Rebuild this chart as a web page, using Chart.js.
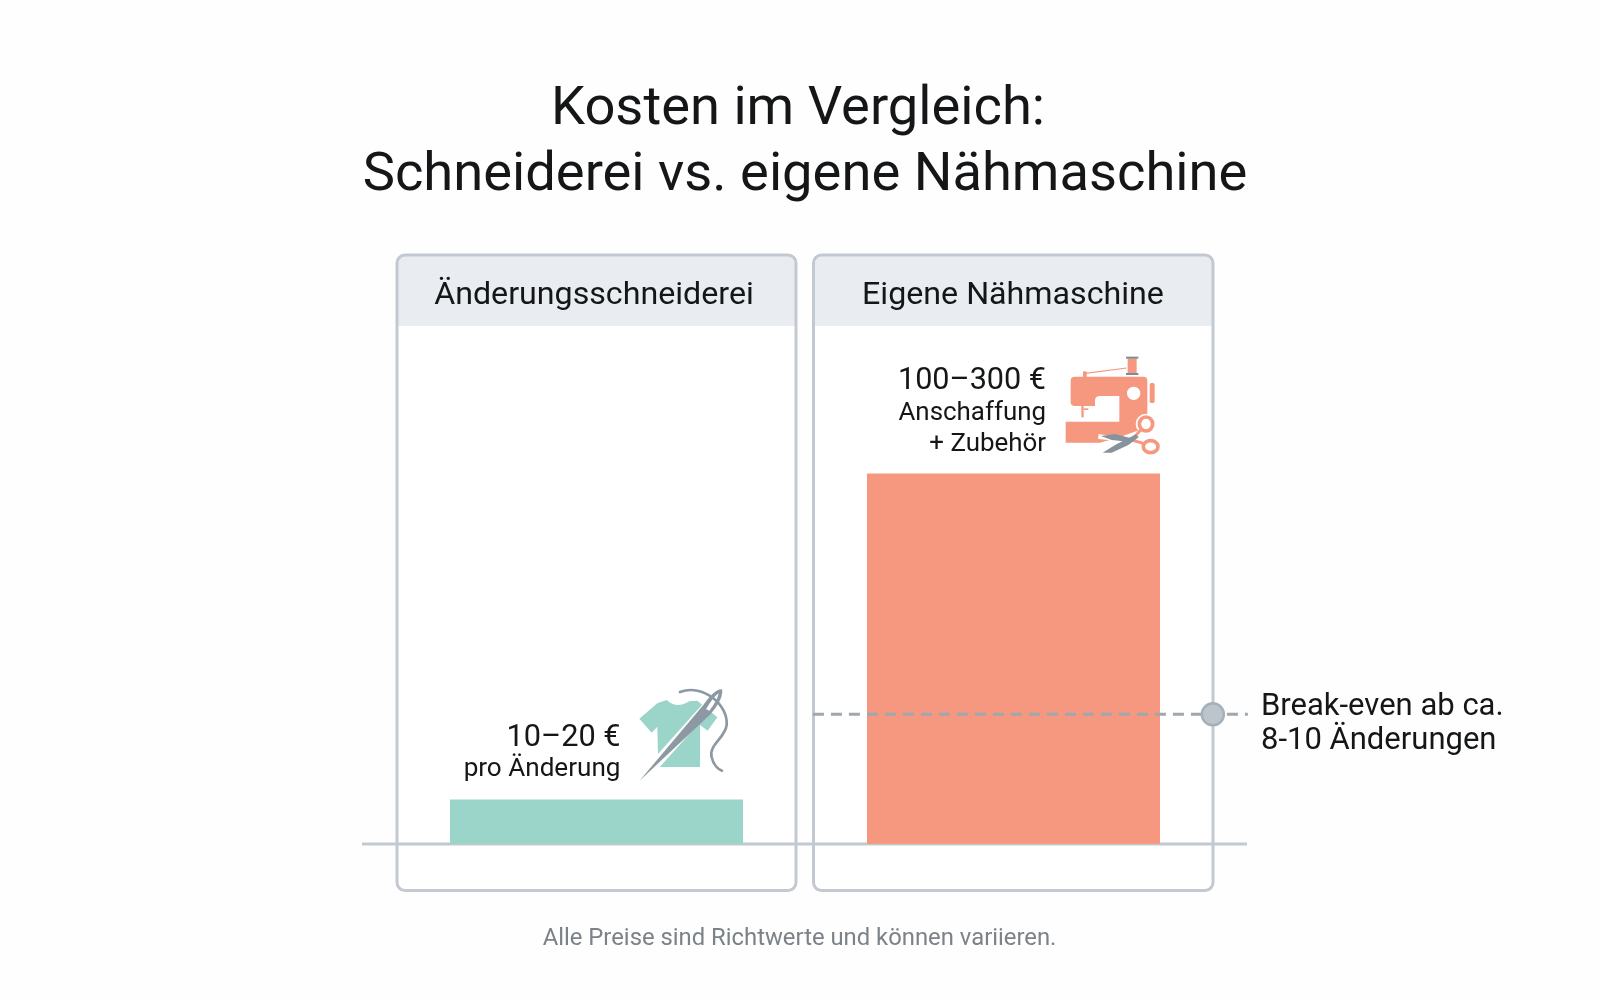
<!DOCTYPE html>
<html lang="de">
<head>
<meta charset="utf-8">
<title>Kosten im Vergleich</title>
<script src="https://cdn.jsdelivr.net/npm/chart.js@4"></script>
<style>html,body{margin:0;padding:0;background:#fefefe}canvas{display:block}</style>
</head>
<body>
<canvas id="c" width="1600" height="1000"></canvas>
<script>
// --- data (the original has no value axis; heights in relative cost units)
const categories = ["Änderungsschneiderei", "Eigene Nähmaschine"];
const barValues = [24, 200];
const breakEvenValue = 70;
const breakEvenXs = [0.519, 1.562];
const breakEvenMarkerX = [1.478];
const titleLines = ["Kosten im Vergleich:", "Schneiderei vs. eigene Nähmaschine"];
const barLabelsLeft = ["10–20 €", "pro Änderung"];
const barLabelsRight = ["100–300 €", "Anschaffung", "+ Zubehör"];
const breakEvenLabel = ["Break-even ab ca.", "8-10 Änderungen"];
const footnote = "Alle Preise sind Richtwerte und können variieren.";

const FONT = 'Roboto, "Noto Sans", sans-serif';
const INK = "#141618", BORDER = "#c3c9d0", HEAD = "#e9ecf0";
const TEAL = "#9bd4c8", SALMON = "#f6987f", STEEL = "#8d99a2";

function txt(ctx, s, x, y, size, align, color, weight) {
  ctx.font = (weight || 400) + " " + size + "px " + FONT;
  ctx.textAlign = align; ctx.textBaseline = "alphabetic";
  ctx.fillStyle = color || INK;
  ctx.fillText(s, x, y);
}
function poly(ctx, pts) {
  ctx.beginPath(); pts.forEach((p, i) => i ? ctx.lineTo(p[0], p[1]) : ctx.moveTo(p[0], p[1])); ctx.closePath();
}
function drawPanel(ctx, l, r, t, b, headB, label, cx) {
  ctx.save();
  ctx.beginPath(); ctx.roundRect(l, t, r - l, b - t, 8); ctx.fillStyle = "#ffffff"; ctx.fill();
  ctx.save(); ctx.clip();
  ctx.fillStyle = HEAD; ctx.fillRect(l, t, r - l, headB - t);
  ctx.restore();
  ctx.strokeStyle = BORDER; ctx.lineWidth = 3; ctx.stroke();
  ctx.restore();
  txt(ctx, label, cx, 304, 32.2, "center");
}
function drawShirtIcon(ctx) {
  ctx.save(); ctx.translate(440, 670); ctx.scale(1 / 3, 1 / 3);
  ctx.beginPath();
  ctx.moveTo(598, 146); ctx.lineTo(652, 100); ctx.lineTo(680, 90);
  ctx.quadraticCurveTo(710, 118, 748, 94); ctx.lineTo(772, 92);
  ctx.lineTo(832, 142); ctx.lineTo(803, 182); ctx.lineTo(780, 165);
  ctx.lineTo(780, 291); ctx.lineTo(655, 291); ctx.lineTo(652, 170); ctx.lineTo(635, 188);
  ctx.closePath(); ctx.fillStyle = TEAL; ctx.fill();
  // white gap along the needle
  ctx.strokeStyle = "#ffffff"; ctx.lineWidth = 30; ctx.beginPath(); ctx.moveTo(640, 290); ctx.lineTo(815, 95); ctx.stroke();
  // needle
  ctx.beginPath(); ctx.moveTo(598, 333); ctx.lineTo(790, 105); ctx.quadraticCurveTo(825, 55, 846, 58);
  ctx.quadraticCurveTo(852, 85, 812, 132); ctx.closePath(); ctx.fillStyle = STEEL; ctx.fill();
  ctx.beginPath(); ctx.moveTo(798, 118); ctx.quadraticCurveTo(820, 80, 836, 70); ctx.quadraticCurveTo(832, 92, 808, 122); ctx.closePath();
  ctx.fillStyle = "#ffffff"; ctx.fill();
  // thread
  ctx.beginPath(); ctx.moveTo(720, 66); ctx.bezierCurveTo(790, 40, 865, 105, 860, 165);
  ctx.bezierCurveTo(855, 205, 805, 225, 815, 262); ctx.bezierCurveTo(820, 285, 835, 298, 846, 302);
  ctx.strokeStyle = STEEL; ctx.lineWidth = 8; ctx.lineCap = "round"; ctx.stroke();
  ctx.restore();
}
function drawMachineIcon(ctx) {
  ctx.save(); ctx.translate(1000, 340); ctx.scale(1 / 3, 1 / 3);
  ctx.fillStyle = SALMON;
  // body
  ctx.beginPath();
  ctx.moveTo(225, 110); ctx.lineTo(430, 110); ctx.quadraticCurveTo(442, 110, 442, 122);
  ctx.lineTo(442, 262); ctx.lineTo(362, 290); ctx.lineTo(300, 308); ctx.lineTo(197, 308); ctx.lineTo(197, 245);
  ctx.lineTo(358, 245); ctx.lineTo(358, 168); ctx.lineTo(300, 168); ctx.quadraticCurveTo(285, 168, 285, 182);
  ctx.lineTo(285, 198); ctx.lineTo(225, 198); ctx.quadraticCurveTo(212, 198, 212, 186);
  ctx.lineTo(212, 122); ctx.quadraticCurveTo(212, 110, 225, 110); ctx.closePath(); ctx.fill();
  // needle bar
  ctx.fillRect(244, 198, 7, 34); ctx.fillRect(251, 205, 14, 5);
  // wheel, post, spool
  ctx.beginPath(); ctx.roundRect(449, 129, 15, 60, 5); ctx.fill();
  ctx.fillRect(249, 94, 11, 18);
  ctx.fillRect(383, 55, 27, 46);
  ctx.fillStyle = "#7f8b94"; ctx.fillRect(378, 50, 37, 6); ctx.fillRect(378, 99, 37, 6);
  // thread
  ctx.strokeStyle = SALMON; ctx.lineWidth = 3.5; ctx.beginPath(); ctx.moveTo(256, 100); ctx.lineTo(380, 84); ctx.stroke();
  // hole
  ctx.fillStyle = "#ffffff"; ctx.beginPath(); ctx.arc(401, 160, 20, 0, Math.PI * 2); ctx.fill();
  // white halo behind scissors
  ctx.strokeStyle = "#ffffff"; ctx.lineWidth = 14; ctx.beginPath(); ctx.moveTo(295, 290); ctx.lineTo(395, 300); ctx.moveTo(315, 338); ctx.lineTo(420, 285); ctx.stroke();
  ctx.fillStyle = "#ffffff";
  ctx.beginPath(); ctx.arc(438, 252, 31, 0, Math.PI * 2); ctx.fill();
  ctx.beginPath(); ctx.arc(452, 320, 31, 0, Math.PI * 2); ctx.fill();
  // scissor handles
  ctx.strokeStyle = SALMON; ctx.lineWidth = 11;
  ctx.beginPath(); ctx.ellipse(438, 252, 20, 21, 0, 0, Math.PI * 2); ctx.stroke();
  ctx.beginPath(); ctx.ellipse(452, 320, 22, 18, 0, 0, Math.PI * 2); ctx.stroke();
  ctx.lineWidth = 9; ctx.beginPath(); ctx.moveTo(424, 268); ctx.lineTo(400, 295); ctx.moveTo(430, 310); ctx.lineTo(395, 300); ctx.stroke();
  // blades
  ctx.fillStyle = "#87939c";
  poly(ctx, [[302, 288], [345, 282], [405, 298], [390, 306], [335, 300]]); ctx.fill();
  poly(ctx, [[308, 338], [345, 315], [408, 283], [416, 292], [385, 315], [335, 338]]); ctx.fill();
  ctx.restore();
}

const scene = {
  id: "scene",
  beforeDatasetsDraw(chart) {
    const { ctx, scales: { x, y } } = chart;
    const base = y.getPixelForValue(0);
    const half = 199.5;
    const c0 = x.getPixelForValue(0), c1 = x.getPixelForValue(1);
    drawPanel(ctx, c0 - half, c0 + half, 255, 890.5, 326, categories[0], 594);
    drawPanel(ctx, c1 - half - 0.5, c1 + half, 255, 890.5, 326, categories[1], 1013);
    ctx.save(); ctx.strokeStyle = BORDER; ctx.lineWidth = 3;
    ctx.beginPath(); ctx.moveTo(chart.chartArea.left - 26, base); ctx.lineTo(chart.chartArea.right + 25, base); ctx.stroke();
    ctx.restore();
  },
  afterDatasetsDraw(chart) {
    const { ctx } = chart;
    txt(ctx, titleLines[0], 798, 124, 54.3, "center");
    txt(ctx, titleLines[1], 805, 190, 54.3, "center");
    txt(ctx, barLabelsLeft[0], 620.5, 746, 30.7, "right");
    txt(ctx, barLabelsLeft[1], 620.5, 776, 26.1, "right");
    txt(ctx, barLabelsRight[0], 1046, 389, 30.6, "right");
    txt(ctx, barLabelsRight[1], 1046, 420, 25.9, "right");
    txt(ctx, barLabelsRight[2], 1046, 451, 25.9, "right");
    txt(ctx, breakEvenLabel[0], 1261, 715, 31, "left");
    txt(ctx, breakEvenLabel[1], 1261, 749, 31, "left");
    txt(ctx, footnote, 799.5, 945, 23.83, "center", "#7b8288");
    drawShirtIcon(ctx);
    drawMachineIcon(ctx);
  }
};

new Chart(document.getElementById("c"), {
  data: {
    labels: categories,
    datasets: [
      { type: "bar", data: barValues, backgroundColor: [TEAL, SALMON], grouped: false, barPercentage: 0.7026, categoryPercentage: 1, order: 3, xAxisID: "x", yAxisID: "y" },
      { type: "line", data: breakEvenXs.map(v => ({ x: v, y: breakEvenValue })), borderColor: "#9da8b0", borderWidth: 3, borderDash: [11, 7], pointRadius: 0, fill: false, clip: false, order: 2, xAxisID: "x2", yAxisID: "y" },
      { type: "scatter", data: breakEvenMarkerX.map(v => ({ x: v, y: breakEvenValue })), pointRadius: 11, pointBackgroundColor: "#bcc5cb", pointBorderColor: "#a6b0b8", pointBorderWidth: 2.5, clip: false, order: 1, xAxisID: "x2", yAxisID: "y" }
    ]
  },
  options: {
    responsive: false, animation: false, devicePixelRatio: 1,
    layout: { padding: { left: 388, right: 378, top: 381, bottom: 156 } },
    plugins: { legend: { display: false }, title: { display: false }, tooltip: { enabled: false } },
    scales: {
      x: { type: "category", display: false, offset: true },
      x2: { type: "linear", display: false, min: -0.5, max: 1.5 },
      y: { type: "linear", display: false, min: 0, max: 250 }
    }
  },
  plugins: [scene]
});
</script>
</body>
</html>
